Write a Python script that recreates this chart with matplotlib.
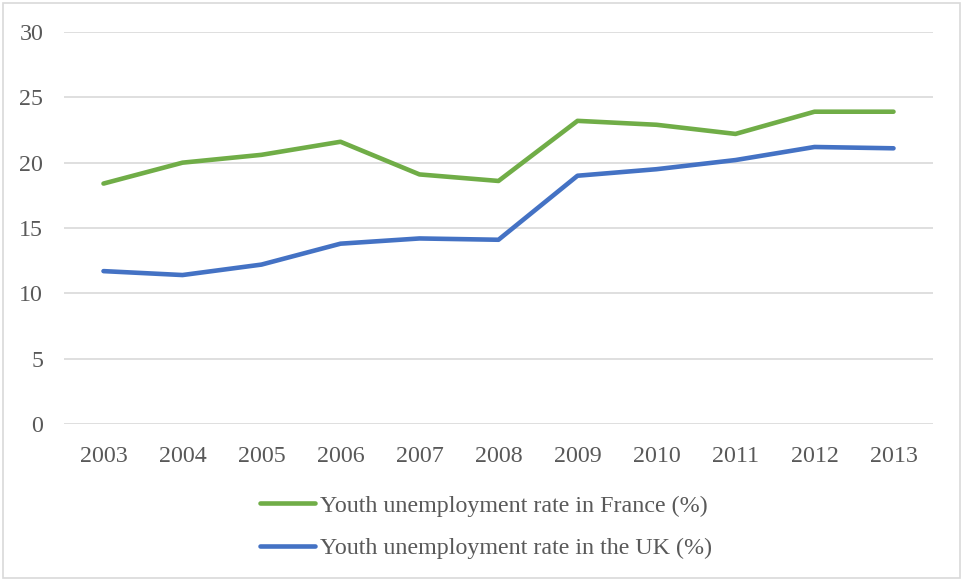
import matplotlib.pyplot as plt
from matplotlib.patches import Rectangle

years = ["2003", "2004", "2005", "2006", "2007", "2008", "2009", "2010", "2011", "2012", "2013"]
france = [18.4, 20.0, 20.6, 21.6, 19.1, 18.6, 23.2, 22.9, 22.2, 23.9, 23.9]
uk = [11.7, 11.4, 12.2, 13.8, 14.2, 14.1, 19.0, 19.5, 20.2, 21.2, 21.1]

plt.rcParams['font.family'] = ['Liberation Serif', 'DejaVu Serif']
txt = '#595959'

fig = plt.figure(figsize=(9.63, 5.81), dpi=100)
ax = fig.add_axes([64 / 963, 1 - 424 / 581, (933 - 64) / 963, (424 - 32) / 581])

x = range(len(years))
ax.plot(x, france, color='#70AD47', lw=3.3, solid_capstyle='round', solid_joinstyle='round',
        label='Youth unemployment rate in France (%)')
ax.plot(x, uk, color='#4472C4', lw=3.3, solid_capstyle='round', solid_joinstyle='round',
        label='Youth unemployment rate in the UK (%)')

ax.set_xlim(-0.5, len(years) - 0.5)
ax.set_ylim(0, 30)
ax.set_yticks(range(0, 31, 5))
ax.set_xticks(list(x))
ax.set_xticklabels(years)
ax.grid(axis='y', color='#D9D9D9', lw=1.2)
ax.set_axisbelow(True)
for s in ax.spines.values():
    s.set_visible(False)
ax.tick_params(length=0, labelsize=17.3, colors=txt)
ax.tick_params(axis='x', pad=16)
ax.tick_params(axis='y', pad=15)

leg = fig.legend(loc='center', bbox_to_anchor=(486 / 963, 1 - 527 / 581), ncol=1, frameon=False,
                 fontsize=17.3, handlelength=2.3, handletextpad=0.2, labelspacing=0.85)
for t in leg.get_texts():
    t.set_color(txt)

fig.patches.append(Rectangle((3 / 963, 3 / 581), 957 / 963, 575 / 581, transform=fig.transFigure,
                             fill=False, edgecolor='#D9D9D9', lw=1.2))

fig.savefig('out.png', dpi=100)
